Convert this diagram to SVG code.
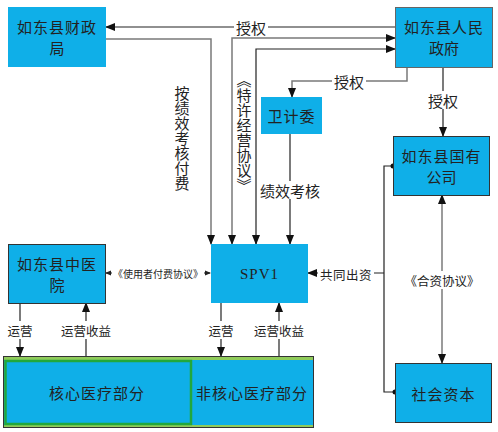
<svg xmlns="http://www.w3.org/2000/svg" width="498" height="432" viewBox="0 0 498 432">
<style>
text{font-family:"Noto Sans CJK SC","Liberation Sans",sans-serif;fill:#222;dominant-baseline:central;text-anchor:middle}
.n{fill:#0FAFE8}
.b{stroke:#333;stroke-width:1}
.g{stroke:#666;stroke-width:1}
.t16{font-size:15px}
.t12{font-size:12.5px}
.ln{fill:none;stroke:#222;stroke-width:1.2}
.gr{fill:none;stroke:#7a7a7a;stroke-width:1.5}
.bg{fill:#fff}
.v{writing-mode:vertical-rl;text-anchor:start}
</style>
<defs>
<marker id="a" markerUnits="userSpaceOnUse" markerWidth="10" markerHeight="10" refX="9" refY="5" orient="auto-start-reverse" viewBox="0 0 10 10"><path d="M0,1 L10,5 L0,9 Z" fill="#111"/></marker>
<marker id="s" markerUnits="userSpaceOnUse" markerWidth="6" markerHeight="6" refX="5" refY="3" orient="auto-start-reverse" viewBox="0 0 6 6"><path d="M0,0.5 L6,3 L0,5.5 Z" fill="#222"/></marker>
<marker id="d" markerUnits="userSpaceOnUse" markerWidth="6" markerHeight="6" refX="3" refY="3" viewBox="0 0 6 6"><circle cx="3" cy="3" r="2.5" fill="#111"/></marker>
</defs>
<g id="connectors">
<path class="ln" d="M395,27 H106" marker-end="url(#a)"/>
<rect class="bg" x="234" y="18" width="34" height="18"/>
<text class="t16" x="251" y="27">授权</text>
<path class="gr" d="M106,39 H211 V244" marker-end="url(#a)"/>
<path class="gr" d="M232,244 V38 H395" marker-start="url(#a)" marker-end="url(#a)"/>
<path class="ln" d="M256,244 V49 H395" stroke="#555" marker-start="url(#a)" marker-end="url(#a)"/>
<text class="t16 v" x="182" y="86">按绩效考核付费</text>
<text class="t16 v" x="244" y="73">《特许经营协议》</text>
<path class="gr" d="M407,67 V81 H292 V97" marker-end="url(#a)"/>
<rect class="bg" x="332" y="72" width="34" height="18"/>
<text class="t16" x="349" y="81">授权</text>
<path class="ln" d="M443,67 V136" marker-end="url(#a)"/>
<rect class="bg" x="426" y="91" width="34" height="18"/>
<text class="t16" x="443" y="100">授权</text>
<path class="ln" d="M290,134 V244" marker-end="url(#a)"/>
<rect class="bg" x="257" y="181" width="66" height="18"/>
<text class="t16" x="290" y="190">绩效考核</text>
<path class="ln" d="M106,273 H210" stroke="#888" marker-start="url(#s)" marker-end="url(#s)"/>
<rect class="bg" x="112" y="265" width="92" height="16"/>
<text x="158" y="273" font-size="10">《使用者付费协议》</text>
<path class="ln" d="M393,166 H384 V392 H395" marker-start="url(#d)" marker-end="url(#d)"/>
<path class="ln" d="M384,273 H308" marker-end="url(#a)"/>
<rect class="bg" x="318" y="265" width="56" height="18"/>
<text class="t12" x="346" y="274" letter-spacing="0.5">共同出资</text>
<path class="gr" d="M442,195 V363" marker-start="url(#a)" marker-end="url(#a)"/>
<rect class="bg" x="406" y="271" width="72" height="18"/>
<text class="t12" x="442" y="280">《合资协议》</text>
<path class="ln" d="M20,303 V356" marker-end="url(#a)"/>
<path class="ln" d="M86,356 V303" marker-end="url(#a)"/>
<path class="ln" d="M221,303 V356" marker-end="url(#a)"/>
<path class="ln" d="M279,356 V303" marker-end="url(#a)"/>
<rect class="bg" x="5" y="321" width="30" height="18"/>
<text class="t12" x="20" y="330">运营</text>
<rect class="bg" x="59" y="321" width="54" height="18"/>
<text class="t12" x="86" y="330">运营收益</text>
<rect class="bg" x="206" y="321" width="30" height="18"/>
<text class="t12" x="221" y="330">运营</text>
<rect class="bg" x="252" y="321" width="54" height="18"/>
<text class="t12" x="279" y="330">运营收益</text>
</g>
<g id="czj">
<rect class="n" x="8" y="7" width="98" height="60"/>
<text class="t16" x="57" y="26" letter-spacing="1">如东县财政</text>
<text class="t16" x="57" y="47">局</text>
</g>
<g id="rmzf">
<rect class="n g" x="395.5" y="7.5" width="97" height="60"/>
<text class="t16" x="444" y="26" letter-spacing="1">如东县人民</text>
<text class="t16" x="444" y="47">政府</text>
</g>
<g id="wjw">
<rect class="n" x="261" y="97" width="61" height="37"/>
<text class="t16" x="291.5" y="115.5" letter-spacing="1">卫计委</text>
</g>
<g id="spv1">
<rect class="n" x="211" y="244" width="97" height="59"/>
<text class="t16" x="259.5" y="273.5" font-family="Liberation Serif,serif" style="font-family:'Liberation Serif',serif" letter-spacing="1">SPV1</text>
</g>
<g id="zyy">
<rect class="n b" x="8.5" y="244.5" width="97" height="59"/>
<text class="t16" x="57" y="263" letter-spacing="1">如东县中医</text>
<text class="t16" x="57" y="284">院</text>
</g>
<g id="gygs">
<rect class="n b" x="393.5" y="136.5" width="96" height="59"/>
<text class="t16" x="441.5" y="155" letter-spacing="1">如东县国有</text>
<text class="t16" x="441.5" y="176">公司</text>
</g>
<g id="shzb">
<rect class="n b" x="395.5" y="363.5" width="96" height="59"/>
<text class="t16" x="443.5" y="393" letter-spacing="1">社会资本</text>
</g>
<g id="bar">
<rect x="3.5" y="356.5" width="310" height="71" fill="#8FCB5A" stroke="#333" stroke-width="1"/>
<rect class="n" x="4" y="360" width="309" height="65"/>
<text class="t16" x="252" y="392" letter-spacing="1">非核心医疗部分</text>
</g>
<g id="core">
<rect class="n" x="5.5" y="361" width="185.5" height="63" stroke="#22A83C" stroke-width="2.5"/>
<text class="t16" x="97" y="392" letter-spacing="1">核心医疗部分</text>
</g>
</svg>
